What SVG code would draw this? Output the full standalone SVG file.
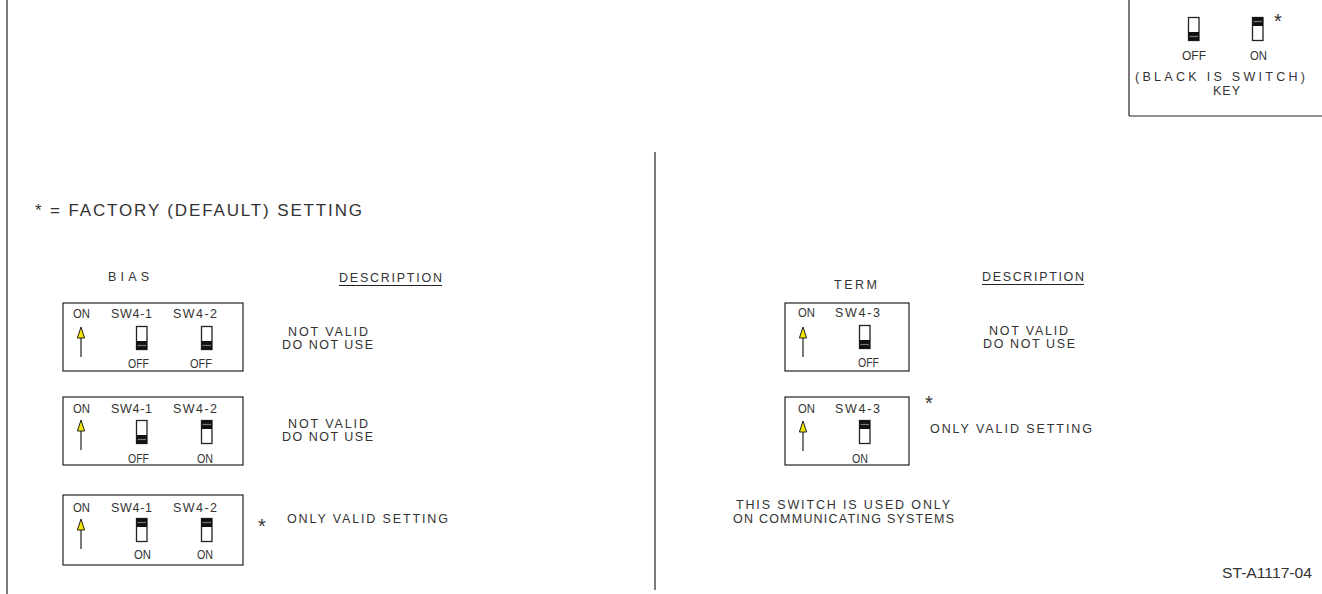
<svg xmlns="http://www.w3.org/2000/svg" xmlns:xlink="http://www.w3.org/1999/xlink" width="1322" height="594" viewBox="0 0 1322 594">
<style>
.t{font-family:"Liberation Sans",Arial,sans-serif;font-size:12.5px;fill:#333}
.big{font-size:17px}
.ln{stroke:#222;stroke-width:1.2;fill:none}
.box{fill:#fff;stroke:#222;stroke-width:1.2}
.ast{font-family:"Liberation Sans",Arial,sans-serif;font-size:20px;fill:#333}
.id{font-family:"Liberation Sans",Arial,sans-serif;font-size:14.5px;fill:#333}
</style>
<defs>
<g id="swoff">
<rect x="0.5" y="0.5" width="10.5" height="23" fill="#fff" stroke="#222" stroke-width="1.3"/>
<rect x="0.5" y="15" width="10.5" height="8.5" fill="#111"/>
<line x1="1.5" y1="19.5" x2="10" y2="19.5" stroke="#777" stroke-width="1.2"/>
</g>
<g id="swon">
<rect x="0.5" y="0.5" width="10.5" height="23" fill="#fff" stroke="#222" stroke-width="1.3"/>
<rect x="0.5" y="0.5" width="10.5" height="8.5" fill="#111"/>
<line x1="1.5" y1="4.5" x2="10" y2="4.5" stroke="#777" stroke-width="1.2"/>
</g>
<g id="arrow">
<line x1="0" y1="10" x2="0" y2="30" stroke="#222" stroke-width="1.2"/>
<polygon points="0,0 3.6,11 -3.6,11" fill="#f2e600" stroke="#222" stroke-width="1"/>
</g>
</defs>

<g id="frame">
<line class="ln" x1="7" y1="0" x2="7" y2="594"/>
<line class="ln" x1="655" y1="152" x2="655" y2="590"/>
</g>

<g id="key">
<line class="ln" x1="1129" y1="0" x2="1129" y2="116"/>
<line class="ln" x1="1129" y1="116" x2="1322" y2="116"/>
<use xlink:href="#swoff" x="1188" y="17"/>
<use xlink:href="#swon" x="1252" y="17"/>
<text class="ast" x="1274" y="28">*</text>
<text class="t" x="1182" y="60" textLength="24" lengthAdjust="spacingAndGlyphs">OFF</text>
<text class="t" x="1250" y="60" textLength="17" lengthAdjust="spacingAndGlyphs">ON</text>
<text class="t" x="1135" y="81" textLength="170" lengthAdjust="spacing">(BLACK IS SWITCH)</text>
<text class="t" x="1213" y="95" textLength="27" lengthAdjust="spacing">KEY</text>
</g>

<g id="legend">
<text class="t big" x="35" y="216" textLength="327" lengthAdjust="spacing">* = FACTORY (DEFAULT) SETTING</text>
</g>

<g id="bias-header">
<text class="t" x="108" y="281" textLength="41" lengthAdjust="spacing">BIAS</text>
<text class="t" x="339" y="282" textLength="103" lengthAdjust="spacing">DESCRIPTION</text>
<line class="ln" x1="339" y1="285.5" x2="442" y2="285.5"/>
</g>

<g id="bias-1">
<rect class="box" x="63" y="303" width="180" height="68"/>
<text class="t" x="73" y="318" textLength="17" lengthAdjust="spacingAndGlyphs">ON</text>
<text class="t" x="111" y="318" textLength="41" lengthAdjust="spacing">SW4-1</text>
<text class="t" x="173" y="318" textLength="44" lengthAdjust="spacing">SW4-2</text>
<use xlink:href="#arrow" x="81" y="327"/>
<use xlink:href="#swoff" x="136" y="326"/>
<use xlink:href="#swoff" x="201" y="326"/>
<text class="t" x="128" y="368" textLength="21" lengthAdjust="spacingAndGlyphs">OFF</text>
<text class="t" x="190" y="368" textLength="22" lengthAdjust="spacingAndGlyphs">OFF</text>
<text class="t" x="288" y="336" textLength="80" lengthAdjust="spacing">NOT VALID</text>
<text class="t" x="282" y="349" textLength="91" lengthAdjust="spacing">DO NOT USE</text>
</g>

<g id="bias-2">
<rect class="box" x="63" y="397" width="180" height="68"/>
<text class="t" x="73" y="413" textLength="17" lengthAdjust="spacingAndGlyphs">ON</text>
<text class="t" x="111" y="413" textLength="41" lengthAdjust="spacing">SW4-1</text>
<text class="t" x="173" y="413" textLength="44" lengthAdjust="spacing">SW4-2</text>
<use xlink:href="#arrow" x="81" y="420"/>
<use xlink:href="#swoff" x="136" y="420"/>
<use xlink:href="#swon" x="201" y="420"/>
<text class="t" x="128" y="463" textLength="21" lengthAdjust="spacingAndGlyphs">OFF</text>
<text class="t" x="197" y="463" textLength="16" lengthAdjust="spacingAndGlyphs">ON</text>
<text class="t" x="288" y="428" textLength="80" lengthAdjust="spacing">NOT VALID</text>
<text class="t" x="282" y="441" textLength="91" lengthAdjust="spacing">DO NOT USE</text>
</g>

<g id="bias-3">
<rect class="box" x="63" y="495" width="180" height="70"/>
<text class="t" x="73" y="512" textLength="17" lengthAdjust="spacingAndGlyphs">ON</text>
<text class="t" x="111" y="512" textLength="41" lengthAdjust="spacing">SW4-1</text>
<text class="t" x="173" y="512" textLength="44" lengthAdjust="spacing">SW4-2</text>
<use xlink:href="#arrow" x="81" y="519"/>
<use xlink:href="#swon" x="136" y="518"/>
<use xlink:href="#swon" x="201" y="518"/>
<text class="t" x="134" y="559" textLength="17" lengthAdjust="spacingAndGlyphs">ON</text>
<text class="t" x="197" y="559" textLength="16" lengthAdjust="spacingAndGlyphs">ON</text>
<text class="ast" x="258" y="533">*</text>
<text class="t" x="287" y="523" textLength="161" lengthAdjust="spacing">ONLY VALID SETTING</text>
</g>

<g id="term-header">
<text class="t" x="834" y="289" textLength="43" lengthAdjust="spacing">TERM</text>
<text class="t" x="982" y="281" textLength="102" lengthAdjust="spacing">DESCRIPTION</text>
<line class="ln" x1="982" y1="284.5" x2="1084" y2="284.5"/>
</g>

<g id="term-1">
<rect class="box" x="785" y="303" width="124" height="68"/>
<text class="t" x="798" y="317" textLength="17" lengthAdjust="spacingAndGlyphs">ON</text>
<text class="t" x="835" y="317" textLength="45" lengthAdjust="spacing">SW4-3</text>
<use xlink:href="#arrow" x="803" y="327"/>
<use xlink:href="#swoff" x="859" y="325"/>
<text class="t" x="858" y="367" textLength="21" lengthAdjust="spacingAndGlyphs">OFF</text>
<text class="t" x="989" y="335" textLength="79" lengthAdjust="spacing">NOT VALID</text>
<text class="t" x="983" y="348" textLength="92" lengthAdjust="spacing">DO NOT USE</text>
</g>

<g id="term-2">
<rect class="box" x="785" y="397" width="124" height="68"/>
<text class="t" x="798" y="413" textLength="17" lengthAdjust="spacingAndGlyphs">ON</text>
<text class="t" x="835" y="413" textLength="45" lengthAdjust="spacing">SW4-3</text>
<use xlink:href="#arrow" x="803" y="421"/>
<use xlink:href="#swon" x="859" y="420"/>
<text class="t" x="852" y="463" textLength="16" lengthAdjust="spacingAndGlyphs">ON</text>
<text class="ast" x="925" y="410">*</text>
<text class="t" x="930" y="433" textLength="162" lengthAdjust="spacing">ONLY VALID SETTING</text>
</g>

<g id="term-note">
<text class="t" x="736" y="509" textLength="214" lengthAdjust="spacing">THIS SWITCH IS USED ONLY</text>
<text class="t" x="733" y="523" textLength="221" lengthAdjust="spacing">ON COMMUNICATING SYSTEMS</text>
</g>

<g id="figure-id">
<text class="id" x="1222" y="578" textLength="90" lengthAdjust="spacingAndGlyphs">ST-A1117-04</text>
</g>
</svg>
